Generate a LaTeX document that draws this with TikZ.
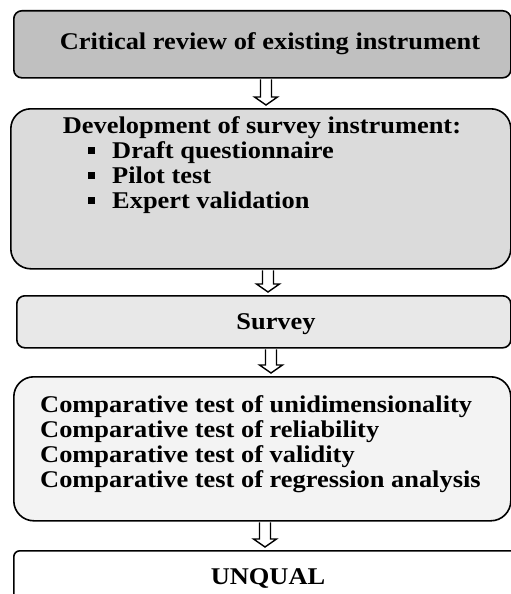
\documentclass[tikz,border=0pt]{standalone}
\usepackage{fontspec}
\setmainfont{Liberation Serif}[FakeStretch=1.1]
\usetikzlibrary{calc}
\definecolor{gA}{HTML}{C0C0C0}
\definecolor{gB}{HTML}{DBDBDB}
\definecolor{gC}{HTML}{E8E8E8}
\definecolor{gD}{HTML}{F3F3F3}
\tikzset{
  box/.style={draw, line width=1.6pt, rounded corners=#1, inner sep=0pt, anchor=north west},
  txt/.style={font=\fontsize{24}{25}\selectfont\bfseries, inner sep=0pt},
  hollow/.style={draw, line width=1.4pt, fill=white, line join=miter},
  bul/.style={fill=black, minimum size=7pt, inner sep=0pt}
}
\newcommand{\blockarrow}[3]{%
  \coordinate (tmpx) at (#1,0);
  \coordinate (at) at (tmpx |- #2.south);
  \coordinate (ab) at (tmpx |- #3.north);
  \draw[hollow] ($(at)+(-5.5,0.8)$) -- ($(ab)+(-5.5,-11)$) -- ($(ab)+(-11.5,-11)$) -- ($(ab)+(0,-3)$) -- ($(ab)+(11.5,-11)$) -- ($(ab)+(5.5,-11)$) -- ($(at)+(5.5,0.8)$);
}
\begin{document}
\begin{tikzpicture}[x=1pt, y=-1pt]
\useasboundingbox (0,0) rectangle (511,594);
\fill[white] (0,0) rectangle (511,594);

% boxes
\node[box=8pt, fill=gA, minimum width=497pt, minimum height=67pt] (b1) at (13,10) {};
\node[box=20pt, fill=gB, minimum width=500pt, minimum height=160pt] (b2) at (10,108) {};
\node[box=8pt, fill=gC, minimum width=494pt, minimum height=52pt] (b3) at (16,295) {};
\node[box=20pt, fill=gD, minimum width=497pt, minimum height=144pt] (b4) at (13,376) {};
\node[box=6pt, fill=white, minimum width=520pt, minimum height=70pt] (b5) at (13,550) {};

% texts
\node[txt, anchor=base] (t1) at (270,50) {Critical review of existing instrument};

\node[txt, anchor=base] (t2) at (262,133) {Development of survey instrument:};
\node[bul] (p1) at (91,150.5) {};
\node[txt, anchor=base west] (t2a) at (112,158) {Draft questionnaire};
\node[bul] (p2) at (91,175.5) {};
\node[txt, anchor=base west] (t2b) at (112,183) {Pilot test};
\node[bul] (p3) at (91,200.5) {};
\node[txt, anchor=base west] (t2c) at (112,208) {Expert validation};

\node[txt, anchor=base] (t3) at (276,329) {Survey};

\node[txt, anchor=base west] (t4a) at (40,412) {Comparative test of unidimensionality};
\node[txt, anchor=base west] (t4b) at (40,437) {Comparative test of reliability};
\node[txt, anchor=base west] (t4c) at (40,462) {Comparative test of validity};
\node[txt, anchor=base west] (t4d) at (40,487) {Comparative test of regression analysis};

\node[txt, anchor=base] (t5) at (268,584) {UNQUAL};

% arrows
\blockarrow{266}{b1}{b2}
\blockarrow{268}{b2}{b3}
\blockarrow{271}{b3}{b4}
\blockarrow{265}{b4}{b5}
\end{tikzpicture}
\end{document}
